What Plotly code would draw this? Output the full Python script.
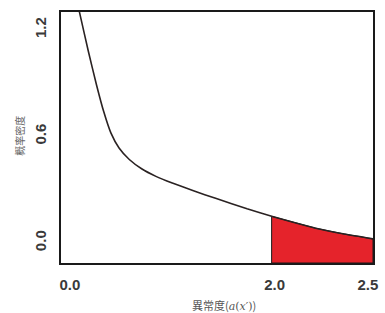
import plotly.graph_objects as go

# Curve (axis units)
curve_x = [0.07, 0.115, 0.20, 0.28, 0.35, 0.42, 0.50, 0.60, 0.72, 0.86,
           1.02, 1.22, 1.45, 1.75, 1.99, 2.20, 2.42, 2.70, 2.98]
curve_y = [1.41, 1.296, 1.08, 0.89, 0.74, 0.62, 0.535, 0.47, 0.418, 0.375,
           0.337, 0.295, 0.250, 0.192, 0.150, 0.116, 0.083, 0.050, 0.023]

# Shaded tail region (from the 2.0 mark to the right end)
tail_start = 1.99

# Axis ticks
x_tickvals = [0.02, 2.02, 2.93]
x_ticktext = ["0.0", "2.0", "2.5"]
y_tickvals = [0.0, 0.6, 1.2]
y_ticktext = ["0.0", "0.6", "1.2"]

x_range = [-0.067, 2.98]
y_range = [-0.113, 1.301]

tail_x = [x for x in curve_x if x >= tail_start]
tail_y = [y for x, y in zip(curve_x, curve_y) if x >= tail_start]
poly_x = tail_x + [tail_x[-1], tail_x[0], tail_x[0]]
poly_y = tail_y + [y_range[0], y_range[0], tail_y[0]]

fig = go.Figure()
fig.add_trace(go.Scatter(x=poly_x, y=poly_y, mode="lines", fill="toself",
                         fillcolor="#e5232b", line=dict(color="#1a1a1a", width=1),
                         hoverinfo="skip", showlegend=False))
fig.add_trace(go.Scatter(x=curve_x, y=curve_y, mode="lines",
                         line=dict(color="#2a2222", width=1.6, shape="spline", smoothing=0.6),
                         showlegend=False))

tick_font = dict(family="Liberation Sans, Arial, sans-serif", size=15, color="#3a3a3a",
                 weight="bold")
fig.update_layout(
    width=385, height=313,
    margin=dict(l=61, r=7, t=12, b=50),
    paper_bgcolor="white", plot_bgcolor="white",
    xaxis=dict(range=x_range, tickvals=x_tickvals, ticktext=x_ticktext,
               showgrid=False, zeroline=False, showline=True, mirror=True,
               linecolor="#1a1a1a", linewidth=2, ticks="", tickfont=tick_font,
               ticklabelstandoff=7),
    yaxis=dict(range=y_range, tickvals=y_tickvals, ticktext=y_ticktext,
               showgrid=False, zeroline=False, showline=True, mirror=True,
               linecolor="#1a1a1a", linewidth=2, ticks="", tickfont=tick_font,
               tickangle=-90, ticklabelstandoff=7),
)
fig.add_annotation(text="概率密度", xref="paper", yref="paper", x=-0.132, y=0.506,
                   xanchor="center", yanchor="middle", textangle=-90, showarrow=False,
                   font=dict(family="Noto Sans CJK SC", size=10, color="#666666"))
fig.add_annotation(
    text="異常度(<span style='font-family:DejaVu Serif'><i>a</i>(<i>x</i>′)</span>)",
    xref="paper", yref="paper", x=0.524, y=-0.167, xanchor="center", yanchor="middle",
    showarrow=False, font=dict(family="Noto Sans CJK SC", size=11, color="#555555"))
fig.write_html("out.html", config={"displayModeBar": False},
               post_script="document.body.style.margin='0';document.body.style.overflow='hidden';")
